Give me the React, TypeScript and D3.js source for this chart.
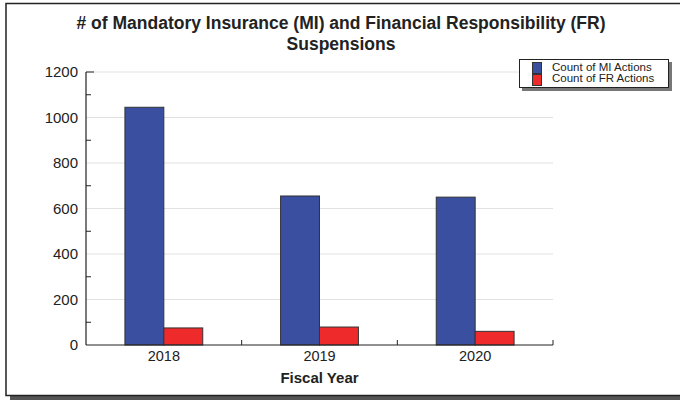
import React, { useEffect, useRef } from 'react';
import * as d3 from 'd3';

const years = ['2018', '2019', '2020'];
const miActions = [1045, 655, 650];
const frActions = [75, 79, 60];
const seriesNames = ['Count of MI Actions', 'Count of FR Actions'];
const seriesColors = ['#3a4fa0', '#ee2a2a'];
const yTicks = [0, 200, 400, 600, 800, 1000, 1200];

const App: React.FC = () => {
  const svgRef = useRef<SVGSVGElement>(null);
  const width = 680;
  const height = 400;

  useEffect(() => {
    const svg = d3.select(svgRef.current);
    svg.selectAll('*').remove(); // clear

    const font = 'Liberation Sans, Arial, sans-serif';
    const margin = { top: 72, right: 127, bottom: 55, left: 86 };
    const innerWidth = width - margin.left - margin.right;
    const innerHeight = height - margin.top - margin.bottom;

    // frame + shadow
    svg.append('rect')
      .attr('x', 10).attr('y', 396).attr('width', 680).attr('height', 5)
      .attr('fill', '#555');
    svg.append('rect')
      .attr('x', 6).attr('y', 3.5).attr('width', 690).attr('height', 392)
      .attr('fill', 'white').attr('stroke', '#222').attr('stroke-width', 1.5);

    // title
    const title = svg.append('text')
      .attr('text-anchor', 'middle')
      .attr('fill', '#222')
      .style('font-family', font)
      .style('font-size', '17.5px')
      .style('font-weight', 'bold');
    title.append('tspan').attr('x', 341).attr('y', 29)
      .text('# of Mandatory Insurance (MI) and Financial Responsibility (FR)');
    title.append('tspan').attr('x', 341).attr('y', 50).text('Suspensions');

    const x = d3.scaleBand()
      .domain(years)
      .range([0, innerWidth]);

    const x1 = d3.scaleBand()
      .domain(seriesNames)
      .range([x.bandwidth() * 0.25, x.bandwidth() * 0.75]);

    const y = d3.scaleLinear()
      .domain([0, 1200])
      .range([innerHeight, 0]);

    const g = svg.append('g')
      .attr('transform', `translate(${margin.left},${margin.top})`);

    // gridlines
    g.append('g')
      .selectAll('line')
      .data(yTicks.filter(d => d > 0))
      .join('line')
        .attr('x1', 0).attr('x2', innerWidth)
        .attr('y1', d => y(d)).attr('y2', d => y(d))
        .attr('stroke', '#e2e2e2').attr('stroke-width', 1);

    // bars
    const rows = years.map((yr, i) => ({ yr, values: [miActions[i], frActions[i]] }));
    g.selectAll('g.layer')
      .data(rows)
      .join('g')
        .attr('class', 'layer')
        .attr('transform', d => `translate(${x(d.yr)!},0)`)
      .selectAll('rect')
      .data(d => d.values.map((v, k) => ({ name: seriesNames[k], v, k })))
      .join('rect')
        .attr('x', d => x1(d.name)!)
        .attr('width', x1.bandwidth())
        .attr('y', d => y(d.v))
        .attr('height', d => innerHeight - y(d.v))
        .attr('fill', d => seriesColors[d.k])
        .attr('stroke', '#333')
        .attr('stroke-width', 1);

    // y axis
    const yAxis = g.append('g')
      .call(d3.axisLeft(y).tickValues(yTicks).tickFormat(d3.format('d')).tickSize(0).tickPadding(8));
    yAxis.select('.domain').remove();
    yAxis.selectAll('text')
      .style('font-family', font).style('font-size', '15px').attr('fill', '#222');
    g.append('line')
      .attr('x1', 0).attr('x2', 0).attr('y1', 0).attr('y2', innerHeight)
      .attr('stroke', '#222').attr('stroke-width', 1.2);
    g.append('g')
      .selectAll('line')
      .data(d3.range(100, 1200, 200))
      .join('line')
        .attr('x1', 0).attr('x2', 5)
        .attr('y1', d => y(d)).attr('y2', d => y(d))
        .attr('stroke', '#222');
    g.append('line')
      .attr('x1', 0).attr('x2', 8).attr('y1', y(1200)).attr('y2', y(1200))
      .attr('stroke', '#222');

    // x axis
    const xAxis = g.append('g')
      .attr('transform', `translate(0,${innerHeight})`)
      .call(d3.axisBottom(x).tickSize(0).tickPadding(6));
    xAxis.select('.domain').remove();
    xAxis.selectAll('text')
      .style('font-family', font).style('font-size', '14.5px').attr('fill', '#222');
    g.append('line')
      .attr('x1', 0).attr('x2', innerWidth).attr('y1', innerHeight).attr('y2', innerHeight)
      .attr('stroke', '#222').attr('stroke-width', 1.2);
    g.append('g')
      .selectAll('line')
      .data(years)
      .join('line')
        .attr('x1', d => x(d)! + x.bandwidth()).attr('x2', d => x(d)! + x.bandwidth())
        .attr('y1', innerHeight).attr('y2', innerHeight - 5)
        .attr('stroke', '#222');

    g.append('text')
      .attr('x', innerWidth / 2)
      .attr('y', innerHeight + 38)
      .attr('text-anchor', 'middle')
      .attr('fill', '#222')
      .style('font-family', font)
      .style('font-size', '15px')
      .style('font-weight', 'bold')
      .text('Fiscal Year');

    // legend
    const lg = svg.append('g').attr('transform', 'translate(519,59)');
    lg.append('rect')
      .attr('x', 3).attr('y', 3).attr('width', 150).attr('height', 29)
      .attr('fill', '#777');
    lg.append('rect')
      .attr('x', 0.5).attr('y', 0.5).attr('width', 149).attr('height', 28)
      .attr('fill', 'white').attr('stroke', '#222');
    seriesNames.forEach((name, k) => {
      lg.append('rect')
        .attr('x', 13.5).attr('y', 3.5 + k * 12).attr('width', 9).attr('height', 11)
        .attr('fill', seriesColors[k]).attr('stroke', '#333');
      lg.append('text')
        .attr('x', 33).attr('y', 12 + k * 11)
        .attr('fill', '#222')
        .style('font-family', font)
        .style('font-size', '11.5px')
        .text(name);
    });
  }, []);

  return (
    <div style={{ position: 'absolute', left: 0, top: 0 }}>
      <svg ref={svgRef} width={width} height={height} style={{ display: 'block' }} />
    </div>
  );
};

export default App;
